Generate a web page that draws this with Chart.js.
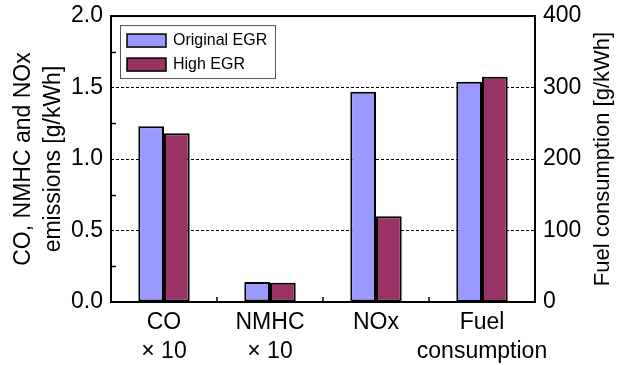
<!DOCTYPE html>
<html>
<head>
<meta charset="utf-8">
<script src="https://cdn.jsdelivr.net/npm/chart.js@4"></script>
<style>
  html, body { margin: 0; padding: 0; background: #fff; }
  #wrap { width: 626px; height: 365px; }
</style>
</head>
<body>
<div id="wrap"><canvas id="myChart" width="626" height="365"></canvas></div>
<script>
const labels = [["CO", "× 10"], ["NMHC", "× 10"], "NOx", ["Fuel", "consumption"]];
// emissions on the left axis (g/kWh), fuel on the right axis (g/kWh)
const originalEmissions = [1.23, 0.14, 1.47, null];
const highEmissions = [1.18, 0.135, 0.60, null];
const originalFuel = [null, null, null, 308];
const highFuel = [null, null, null, 315];
const leftTicks = [0, 0.5, 1.0, 1.5, 2.0];
const rightTicks = [0, 100, 200, 300, 400];
const minorTicks = [0.25, 0.75, 1.25, 1.75];
const seriesNames = ["Original EGR", "High EGR"];

const FONT = "'Liberation Sans', Arial, sans-serif";
const ORIG = "#9999FF";
const HIGH = "#993366";

const ctx = document.getElementById("myChart");

const framePlugin = {
  id: "frame",
  afterDatasetsDraw(chart) {
    const c = chart.ctx;
    const a = chart.chartArea;
    const y = chart.scales.y;
    const x = chart.scales.x;
    c.save();
    c.strokeStyle = "#000";
    // minor ticks on the left axis, pointing inward
    c.lineWidth = 1.5;
    minorTicks.forEach((v) => {
      const p = Math.round(y.getPixelForValue(v)) + 0.5;
      c.beginPath();
      c.moveTo(a.left, p);
      c.lineTo(a.left + 5, p);
      c.stroke();
    });
    // ticks between categories on the bottom axis
    for (let i = 1; i < labels.length; i++) {
      const p = Math.round((x.getPixelForValue(i - 1) + x.getPixelForValue(i)) / 2);
      c.beginPath();
      c.moveTo(p, a.bottom);
      c.lineTo(p, a.bottom - 5);
      c.stroke();
    }
    // plot box
    c.lineWidth = 2;
    c.strokeRect(a.left, a.top, a.right - a.left, a.bottom - a.top);

    // legend box
    const lx = a.left + 9, ly = a.top + 9;
    c.lineWidth = 1;
    c.strokeStyle = "#555";
    c.strokeRect(lx + 0.5, ly + 0.5, 155, 53);
    const colors = [ORIG, HIGH];
    c.font = "16px " + FONT;
    c.textBaseline = "middle";
    c.textAlign = "left";
    seriesNames.forEach((name, i) => {
      const sy = ly + 9 + i * 24;
      c.fillStyle = colors[i];
      c.fillRect(lx + 7, sy, 39, 13);
      c.strokeStyle = "#000";
      c.lineWidth = 1.5;
      c.strokeRect(lx + 7, sy, 39, 13);
      c.fillStyle = "#000";
      c.fillText(name, lx + 53, sy + 7);
    });

    // right axis title, reading bottom to top
    c.save();
    c.translate(603, (a.top + a.bottom) / 2);
    c.rotate(-Math.PI / 2);
    c.font = "22px " + FONT;
    c.textAlign = "center";
    c.textBaseline = "middle";
    c.fillStyle = "#000";
    c.fillText("Fuel consumption [g/kWh]", 0, 0);
    c.restore();
    c.restore();
  },
};

const barStyle = {
  borderColor: "#000",
  borderWidth: 2,
  borderSkipped: false,
  categoryPercentage: 0.485,
  barPercentage: 1.0,
  skipNull: true,
};

new Chart(ctx, {
  type: "bar",
  data: {
    labels: labels,
    datasets: [
      { label: seriesNames[0], data: originalEmissions, backgroundColor: ORIG, yAxisID: "y", ...barStyle },
      { label: seriesNames[1], data: highEmissions, backgroundColor: HIGH, yAxisID: "y", ...barStyle },
      { label: seriesNames[0], data: originalFuel, backgroundColor: ORIG, yAxisID: "y2", ...barStyle },
      { label: seriesNames[1], data: highFuel, backgroundColor: HIGH, yAxisID: "y2", ...barStyle },
    ],
  },
  plugins: [framePlugin],
  options: {
    responsive: false,
    animation: false,
    layout: { padding: { top: 15, left: 0, right: 0, bottom: 0 } },
    plugins: {
      legend: { display: false },
      tooltip: { enabled: false },
    },
    scales: {
      x: {
        grid: { display: false, drawTicks: false },
        border: { display: false },
        ticks: {
          color: "#000",
          font: { family: FONT, size: 23, lineHeight: 1.26 },
          padding: 6,
          maxRotation: 0,
          autoSkip: false,
        },
        afterFit: (s) => { s.height = 63; },
      },
      y: {
        position: "left",
        min: 0,
        max: 2,
        afterBuildTicks: (s) => { s.ticks = leftTicks.map((v) => ({ value: v })); },
        grid: {
          color: "#000",
          lineWidth: 1,
          drawTicks: false,
        },
        border: { display: false, dash: [3, 2] },
        ticks: {
          color: "#000",
          font: { family: FONT, size: 23, lineHeight: 0.7 },
          padding: 8,
          callback: (v) => v.toFixed(1),
        },
        title: {
          display: true,
          text: ["CO, NMHC and NOx", "emissions [g/kWh]"],
          color: "#000",
          font: { family: FONT, size: 23, lineHeight: 1.3 },
          padding: { top: 9, bottom: 0 },
        },
        afterFit: (s) => { s.width = 111; },
      },
      y2: {
        position: "right",
        min: 0,
        max: 400,
        afterBuildTicks: (s) => { s.ticks = rightTicks.map((v) => ({ value: v })); },
        grid: { display: false, drawTicks: false },
        border: { display: false },
        ticks: {
          color: "#000",
          font: { family: FONT, size: 23, lineHeight: 0.7 },
          padding: 8,
        },
        afterFit: (s) => { s.width = 91; },
      },
    },
  },
});
</script>
</body>
</html>
